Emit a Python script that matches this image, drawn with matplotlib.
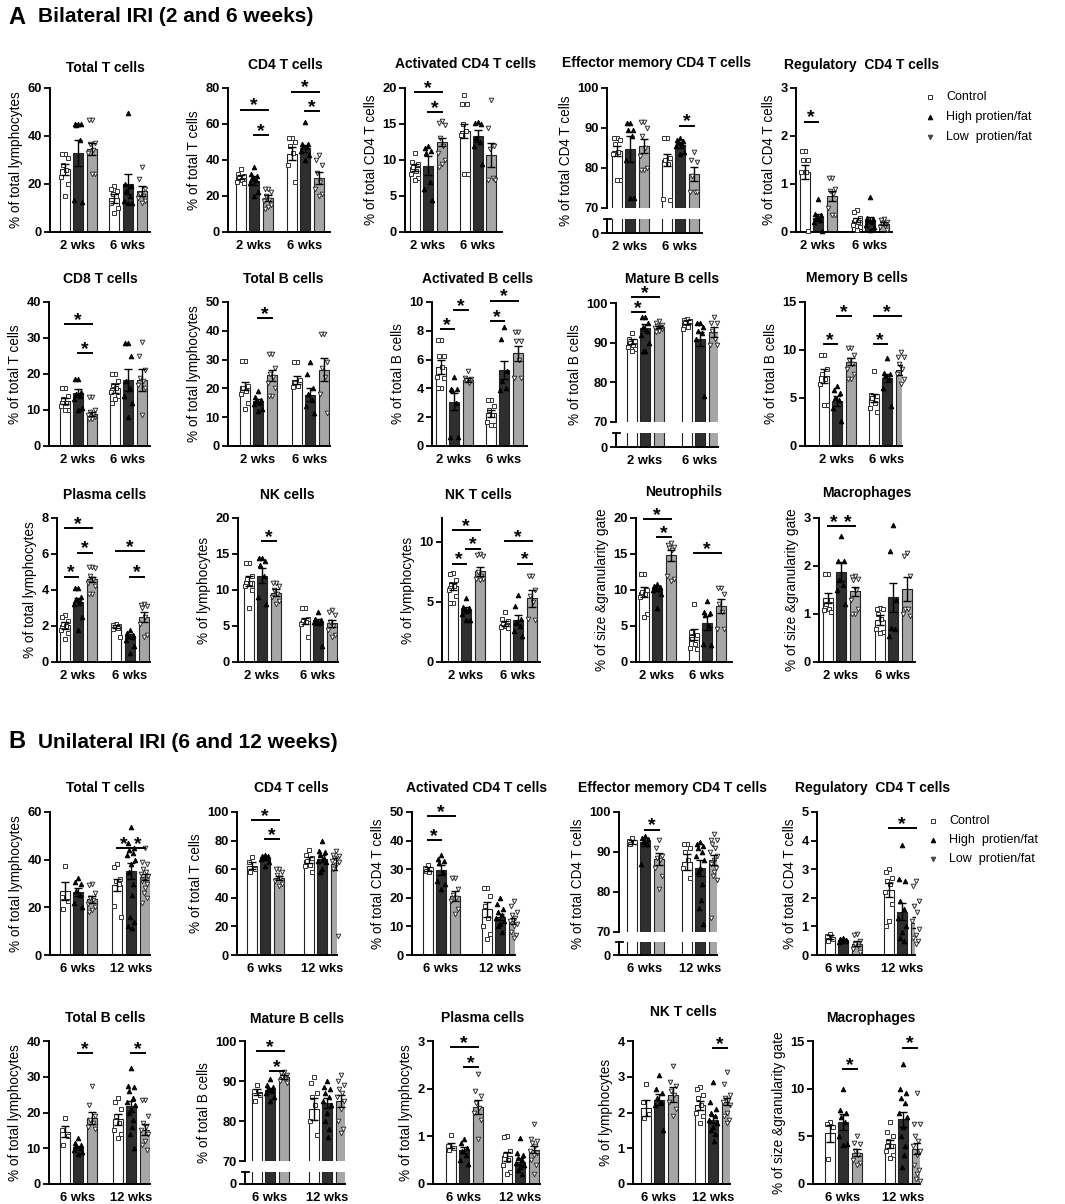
import matplotlib
matplotlib.use('Agg')
import matplotlib.pyplot as plt

plt.rcParams['font.family'] = ['Liberation Sans', 'DejaVu Sans']
plt.rcParams['font.weight'] = 'bold'

# ---------------- data ----------------
SERIES_A = ['Control', 'High protien/fat', 'Low  protien/fat']
SERIES_B = ['Control', 'High  protien/fat', 'Low  protien/fat']
WEEKS_A = ['2 wks', '6 wks']
WEEKS_B = ['6 wks', '12 wks']

# order of bars: [Ctrl wk1, High wk1, Low wk1, Ctrl wk2, High wk2, Low wk2]
A_TOTT_MEAN = [26.2, 32.8, 34.5, 14.0, 20.0, 17.0]
A_TOTT_SEM = [2.3, 5.5, 2.6, 1.9, 4.3, 2.0]
A_TOTT_PTS = [[32.5, 32.5, 31, 28, 26, 23, 20, 15], [45, 45, 45, 44.5, 38.5, 13.3, 12.5],
              [46.5, 46.5, 37, 36.5, 34, 33, 24, 24], [19, 18, 17, 16, 15, 12, 10, 8],
              [49.5, 20, 19, 17, 15, 13, 12, 12], [27, 22, 18, 16, 15, 14, 13, 12]]
A_TOTT_SIG = []

A_CD4_MEAN = [30.5, 28.5, 19.0, 43.5, 46.5, 30.0]
A_CD4_SEM = [1.3, 2.5, 1.5, 3.5, 2.0, 3.5]
A_CD4_PTS = [[35, 32, 31, 30, 29, 28, 27], [36, 32, 31, 30, 29, 27, 22, 20],
             [24, 24, 22, 20, 18, 17, 15, 14, 13], [52, 52, 50, 48, 44, 37, 28],
             [61, 49, 49, 48, 47, 45, 43, 40], [43, 40, 37, 33, 28, 24, 21, 20]]
A_CD4_SIG = [(0, 2, 68), (1, 2, 54), (3, 5, 78), (4, 5, 67)]

A_ACD4_MEAN = [9.0, 9.2, 12.5, 14.0, 13.3, 10.7]
A_ACD4_SEM = [0.5, 1.3, 0.6, 1.0, 0.8, 1.7]
A_ACD4_PTS = [[11, 9.7, 9.5, 9, 8.5, 8, 7.5, 7.2], [12, 11.7, 11.3, 11, 7, 6, 4.5],
              [15.4, 15.2, 14.8, 13, 12, 11, 10, 9.5, 9], [19, 17.8, 17.8, 15, 14, 13.5, 8, 8],
              [15.3, 15.2, 15, 13, 12.5, 12, 9.5], [18.3, 14.5, 12, 11.5, 7.5, 7.2, 7.2]]
A_ACD4_SIG = [(0, 2, 19.4), (1, 2, 16.7)]

A_EM_MEAN = [84.2, 84.7, 85.5, 82.0, 85.8, 78.5]
A_EM_SEM = [1.3, 3.3, 1.8, 1.5, 0.7, 1.8]
A_EM_PTS = [[87.5, 87.5, 87, 86, 84, 83.5, 77, 77], [91.3, 91.3, 89.5, 89.5, 88, 82, 72.5, 72.5],
            [91.5, 91.5, 90, 88, 85, 83, 80, 79.5, 79.5], [87.5, 87.5, 82.5, 82, 81, 72.3, 72],
            [87.5, 87, 86.8, 86.5, 86, 85.5, 84, 83.5], [84, 82, 81.5, 78, 74, 74, 74]]
A_EM_SIG = [(4, 5, 90.6)]

A_TREG_MEAN = [1.25, 0.30, 0.75, 0.25, 0.25, 0.17]
A_TREG_SEM = [0.15, 0.07, 0.10, 0.05, 0.06, 0.03]
A_TREG_PTS = [[1.68, 1.68, 1.5, 1.5, 1.25, 1.25, 0.02], [0.68, 0.38, 0.35, 0.3, 0.25, 0.2, 0.02],
              [1.12, 1.12, 0.9, 0.85, 0.8, 0.5, 0.35, 0.35], [0.46, 0.42, 0.3, 0.25, 0.2, 0.15, 0.1, 0.05],
              [0.73, 0.3, 0.28, 0.25, 0.2, 0.15, 0.1, 0.05], [0.27, 0.25, 0.2, 0.18, 0.12, 0.1, 0.05]]
A_TREG_SIG = [(0, 1, 2.3)]

A_CD8_MEAN = [12.5, 14.7, 8.8, 16.0, 18.3, 18.3]
A_CD8_SEM = [0.8, 1.0, 0.6, 1.3, 3.0, 3.0]
A_CD8_PTS = [[16, 16, 14, 13, 12, 11, 10, 10], [18.5, 18.5, 15, 14.5, 14, 13, 10.5, 10],
             [13.5, 13.5, 10, 9.5, 9, 8.5, 8, 7.5, 7.5], [20, 20, 18, 17, 16, 15, 14, 13, 12],
             [28.5, 28.5, 25, 18, 16, 14, 12, 8], [29, 25, 21, 19, 18, 17, 16, 8.5]]
A_CD8_SIG = [(0, 2, 33.8), (1, 2, 25.9)]

A_TOTB_MEAN = [20.8, 15.6, 24.5, 23.0, 17.8, 26.4]
A_TOTB_SEM = [1.5, 0.8, 1.8, 1.3, 2.2, 4.0]
A_TOTB_PTS = [[29.5, 29.5, 21, 20, 19, 18, 15, 13], [19, 17, 16, 15.5, 15, 14.5, 13, 12],
              [32, 32, 27, 25, 24, 22, 20, 17.5, 17.5], [29, 29, 23, 22, 21, 20.5],
              [29, 25, 20, 18, 16, 14, 11.5], [39, 39, 29, 27, 24, 18, 11.5]]
A_TOTB_SIG = [(1, 2, 44.5)]

A_ACTB_MEAN = [5.47, 3.07, 4.6, 2.26, 5.28, 6.44]
A_ACTB_SEM = [0.5, 0.6, 0.15, 0.25, 0.62, 0.53]
A_ACTB_PTS = [[7.35, 7.35, 6.25, 6.25, 5.5, 4.8, 4.7, 4.0, 4.0], [4.77, 3.95, 3.95, 3.9, 3.0, 0.65, 0.65],
              [5.2, 4.75, 4.65, 4.55, 4.4], [3.2, 3.2, 2.8, 2.5, 2.15, 1.7, 1.45, 1.45],
              [8.25, 7.45, 5.2, 4.5, 4.0, 3.9], [7.9, 7.9, 7.3, 7.3, 6.0, 4.7, 4.7]]
A_ACTB_SIG = [(0, 1, 8.1), (1, 2, 9.45), (3, 4, 8.7), (3, 5, 10.1)]

A_MATB_MEAN = [90.3, 93.8, 94.0, 95.2, 91.0, 92.7]
A_MATB_SEM = [0.6, 0.8, 0.3, 0.5, 1.8, 1.2]
A_MATB_PTS = [[92.5, 91, 90.5, 90, 89.5, 89, 88.5, 88], [96.5, 96.5, 95, 94, 93, 92, 90, 88, 88],
              [95.5, 95, 94.5, 94.3, 94, 93.8, 93.5, 93, 92.8], [96, 95.8, 95.5, 95, 94, 93.5],
              [95, 95, 94, 93, 92.5, 91, 76.5], [96.5, 95, 95, 93, 91, 89.5, 89.5]]
A_MATB_SIG = [(0, 1, 97.7), (0, 2, 101.5)]

A_MEMB_MEAN = [7.3, 4.7, 8.8, 5.0, 7.1, 7.9]
A_MEMB_SEM = [0.7, 0.5, 0.4, 0.4, 0.45, 0.5]
A_MEMB_PTS = [[9.5, 9.5, 8, 7.5, 7, 6.5, 4.3, 4.3], [6.3, 5.8, 5.5, 5, 4.8, 4, 2.6],
              [10.2, 10.2, 9.5, 9, 8.5, 8, 7.5, 7, 7], [7.8, 5.3, 5.2, 5, 4.5, 4, 3.5],
              [9.2, 7.6, 7.5, 7.3, 7, 6, 4.2], [9.8, 9.3, 9.3, 8.5, 8, 7.5, 7, 6.5]]
A_MEMB_SIG = [(0, 1, 10.6), (1, 2, 13.5), (3, 4, 10.6), (3, 5, 13.5)]

A_PLAS_MEAN = [2.05, 3.35, 4.6, 1.95, 1.45, 2.5]
A_PLAS_SEM = [0.2, 0.2, 0.15, 0.08, 0.12, 0.3]
A_PLAS_PTS = [[2.6, 2.5, 2.3, 2.1, 2, 1.8, 1.6, 1.3], [4.1, 4.1, 3.6, 3.5, 3.4, 3.2, 2.5, 1.8],
              [5.3, 5.3, 5.2, 4.8, 4.6, 4.4, 4.2, 3.8, 3.8], [2.1, 2.05, 2, 1.95, 1.9, 1.85, 1.4],
              [1.8, 1.6, 1.5, 1.45, 1.4, 1.2, 0.9, 0.5], [3.2, 3.15, 3.1, 3, 2.5, 2.1, 1.5, 1.4]]
A_PLAS_SIG = [(0, 1, 4.74), (1, 2, 6.08), (0, 2, 7.44), (4, 5, 4.74), (3, 5, 6.14)]

A_NK_MEAN = [11.3, 12.0, 9.6, 5.7, 5.6, 5.4]
A_NK_SEM = [0.7, 1.0, 0.5, 0.4, 0.4, 0.5]
A_NK_PTS = [[13.7, 13.7, 12, 11.5, 11, 10.5, 10, 7.5], [14.5, 14.5, 14, 13.5, 12, 9, 8],
            [11, 11, 10.5, 10, 9.5, 9, 8.5, 8], [7.5, 7.5, 6, 5.7, 5.5, 5.3, 3.5],
            [7, 6, 5.8, 5.6, 5.5, 5.5, 2.2], [7.2, 7, 6.5, 5.5, 5, 4.5, 3.8, 3.5]]
A_NK_SIG = [(1, 2, 16.8)]

A_NKT_MEAN = [6.3, 4.35, 7.55, 3.2, 3.5, 5.3]
A_NKT_SEM = [0.3, 0.25, 0.4, 0.2, 0.4, 0.7]
A_NKT_PTS = [[7.4, 7.3, 6.8, 6.5, 6.3, 6.0, 5.5, 4.9, 4.9], [5.3, 4.6, 4.5, 4.4, 4.3, 4.0, 3.5, 3.5],
             [9.0, 8.9, 8.8, 7.5, 7.2, 6.9, 6.9, 6.8], [4.2, 3.6, 3.4, 3.2, 3.0, 2.9, 2.8],
             [5.6, 4.7, 3.6, 3.3, 3.0, 2.6, 2.2], [7.2, 7.2, 6.0, 5.5, 5.0, 3.6, 3.5]]
A_NKT_SIG = [(0, 1, 8.2), (1, 2, 9.45), (0, 2, 11.0), (4, 5, 8.2), (3, 5, 10.1)]

A_NEU_MEAN = [9.7, 10.2, 14.8, 3.8, 5.4, 7.8]
A_NEU_SEM = [0.7, 0.3, 0.8, 0.8, 1.0, 1.0]
A_NEU_PTS = [[12.2, 12.2, 10, 9.7, 9.5, 9, 6.6, 6.2], [10.8, 10.5, 10.4, 10.3, 10.2, 10, 9.5, 7.5],
             [16.5, 16.3, 16, 15.8, 15.5, 12, 11.5, 11.3], [8.1, 4.2, 3.8, 3.2, 2.5, 2, 1.8],
             [8.5, 7, 6.8, 6.5, 5, 2.5, 2.3], [10.3, 10.3, 9.5, 8, 7, 4.6, 4.6]]
A_NEU_SIG = [(0, 2, 19.9), (1, 2, 17.35), (3, 5, 15.1)]

A_MAC_MEAN = [1.33, 1.88, 1.47, 0.87, 1.35, 1.53]
A_MAC_SEM = [0.1, 0.2, 0.1, 0.1, 0.3, 0.25]
A_MAC_PTS = [[1.83, 1.83, 1.3, 1.2, 1.1, 1.08, 1.05], [2.63, 2.1, 2.1, 1.7, 1.6, 1.5, 1.2],
             [1.8, 1.78, 1.72, 1.7, 1.5, 1.3, 1.1, 1.0, 1.0], [1.12, 1.1, 1.1, 1.0, 0.9, 0.68, 0.62, 0.6],
             [2.85, 2.32, 1.3, 0.7, 0.68, 0.55], [2.28, 2.2, 1.8, 1.1, 1.1, 1.0, 0.95]]
A_MAC_SIG = [(0, 1, 2.83), (1, 2, 2.83)]

B_TOTT_MEAN = [26.7, 26.5, 23.3, 29.5, 35.3, 32.7]
B_TOTT_SEM = [3.8, 1.8, 1.5, 2.5, 3.4, 1.3]
B_TOTT_PTS = [[37.5, 24.5, 22.5, 19.5], [32.5, 30.5, 30, 27, 25, 22, 20],
              [30, 29.5, 26, 24, 23, 21.5, 20, 19, 18], [38, 37, 32, 31, 30, 20.5, 16],
              [53.5, 47, 45, 44, 43, 42, 40, 38, 35, 30, 25, 16, 14, 12, 11.5],
              [45, 39, 38, 36, 35, 34, 33, 32, 31, 30, 28, 26, 24, 22]]
B_TOTT_SIG = [(3, 4, 44.9), (4, 5, 44.9)]

B_CD4_MEAN = [62.5, 67.5, 54.0, 66.3, 67.3, 63.5]
B_CD4_SEM = [2.5, 1.0, 1.5, 2.0, 2.5, 4.0]
B_CD4_PTS = [[68.5, 65, 60, 58], [70, 69.5, 69, 68.5, 68, 67, 65, 62],
             [60, 60, 58, 56, 54, 52, 50, 48], [73.5, 70, 68, 66, 63, 62, 58],
             [80, 73, 72, 70, 68, 66, 65, 60, 58], [73, 70, 69, 68, 67, 66, 65, 63, 60, 13]]
B_CD4_SIG = [(0, 2, 94.2), (1, 2, 80.9)]

B_ACD4_MEAN = [30.0, 29.8, 20.7, 16.0, 13.3, 12.0]
B_ACD4_SEM = [0.8, 1.7, 1.7, 2.6, 1.2, 1.0]
B_ACD4_PTS = [[31.5, 30.5, 30, 29.5, 29], [35, 33.5, 33, 32, 29, 26, 25, 23],
              [27, 27, 23, 21, 20, 19, 16, 14.5], [23.5, 23.5, 20.5, 17, 13, 10, 7.5, 5.5],
              [20, 18, 16, 15, 14, 13, 12, 11, 10, 8], [19, 17, 15, 14, 13, 12, 11, 10, 8, 7, 6]]
B_ACD4_SIG = [(0, 1, 40.1), (0, 2, 48.6)]

B_EM_MEAN = [92.5, 92.5, 88.2, 87.5, 86.0, 88.0]
B_EM_SEM = [0.4, 1.0, 1.5, 1.9, 2.0, 1.2]
B_EM_PTS = [[93.5, 92.8, 92.5, 92], [94, 93.5, 93.3, 92.5, 92, 87],
            [93, 91, 89, 88.5, 88, 86, 84, 80.8], [92, 92, 91, 90, 88, 86, 83.5],
            [92.5, 92, 91.5, 91, 90, 89, 88, 86, 85, 82, 78, 76, 72],
            [94.5, 93, 93, 92, 91, 90, 89, 88, 87, 86, 85, 84, 83, 73.5]]
B_EM_SIG = [(1, 2, 95.6)]

B_TREG_MEAN = [0.62, 0.52, 0.40, 2.27, 1.52, 1.13]
B_TREG_SEM = [0.07, 0.03, 0.08, 0.25, 0.3, 0.2]
B_TREG_PTS = [[0.75, 0.65, 0.55, 0.5], [0.6, 0.55, 0.52, 0.5, 0.48, 0.45],
              [0.75, 0.7, 0.5, 0.4, 0.3, 0.2, 0.1], [3, 2.9, 2.7, 2.6, 2.5, 2.2, 1.8, 1.2, 1.0],
              [3.85, 2.65, 2.6, 1.9, 1.6, 1.3, 1.0, 0.8, 0.6, 0.5],
              [2.6, 2.4, 1.9, 1.7, 1.5, 1.2, 0.9, 0.7, 0.6, 0.5, 0.4]]
B_TREG_SIG = [(3, 5, 4.45)]

B_TOTB_MEAN = [14.6, 10.3, 18.4, 18.1, 21.7, 15.2]
B_TOTB_SEM = [1.5, 0.4, 1.7, 1.6, 1.6, 1.5]
B_TOTB_PTS = [[18.5, 15, 13.5, 11], [13, 11.5, 11, 10.5, 10, 9.5, 9, 8.5],
              [27.5, 22, 19, 18, 17, 16, 15.5], [24, 23, 21, 19, 17, 15, 14, 13],
              [32.5, 27.5, 27, 26, 24, 23, 22, 21, 20, 18, 16, 14, 10],
              [23.5, 23.5, 19, 17, 16, 15, 14, 12, 11, 9.5]]
B_TOTB_SIG = [(1, 2, 36.6), (4, 5, 36.6)]

B_MATB_MEAN = [87.3, 87.8, 91.0, 83.0, 84.5, 85.0]
B_MATB_SEM = [0.8, 0.5, 0.4, 2.8, 1.2, 1.6]
B_MATB_PTS = [[89, 87.5, 86.5, 85], [90.5, 89, 88.5, 88, 87.5, 87, 86, 85],
              [92.3, 92, 91.5, 91, 90.5, 90, 89.5], [91, 89.5, 87, 86, 84, 80, 76.5],
              [90, 88.5, 88, 87, 86, 85, 84, 82, 80, 78, 76],
              [91.5, 90, 89, 88, 87, 86, 85, 83, 80, 78, 77]]
B_MATB_SIG = [(0, 2, 97.5), (1, 2, 92.5)]

B_PLAS_MEAN = [0.80, 0.71, 1.62, 0.58, 0.47, 0.72]
B_PLAS_SEM = [0.05, 0.07, 0.15, 0.1, 0.07, 0.07]
B_PLAS_PTS = [[1.02, 0.8, 0.75, 0.72], [0.95, 0.85, 0.75, 0.7, 0.6, 0.5, 0.42],
              [2.3, 1.95, 1.85, 1.7, 1.6, 1.5, 1.35, 0.95], [1.0, 0.98, 0.7, 0.6, 0.5, 0.4, 0.25, 0.2],
              [0.97, 0.65, 0.6, 0.55, 0.5, 0.45, 0.4, 0.35, 0.3, 0.2],
              [1.25, 0.95, 0.9, 0.85, 0.8, 0.7, 0.65, 0.6, 0.5, 0.4, 0.2]]
B_PLAS_SIG = [(0, 2, 2.87), (1, 2, 2.46)]

B_NKT_MEAN = [2.13, 2.36, 2.5, 2.2, 1.8, 2.3]
B_NKT_SEM = [0.22, 0.15, 0.2, 0.12, 0.1, 0.1]
B_NKT_PTS = [[2.8, 2.3, 1.95, 1.85], [3.05, 2.65, 2.55, 2.4, 2.3, 2.2, 1.5],
             [3.3, 2.85, 2.75, 2.6, 2.5, 2.3, 2.1, 1.9], [2.7, 2.65, 2.5, 2.4, 2.2, 2.0, 1.9, 1.7],
             [2.85, 2.3, 2.1, 2.0, 1.9, 1.8, 1.7, 1.6, 1.5, 1.4, 1.2],
             [3.12, 2.8, 2.5, 2.4, 2.35, 2.3, 2.2, 2.0, 1.9, 1.8, 1.7]]
B_NKT_SIG = [(4, 5, 3.8)]

B_MAC_MEAN = [5.3, 6.5, 3.3, 4.2, 6.8, 3.7]
B_MAC_SEM = [0.85, 0.8, 0.4, 0.4, 0.8, 0.6]
B_MAC_PTS = [[6.5, 6.3, 6.0, 2.6], [10, 7.8, 7.5, 7, 6.5, 5, 4.2, 4.1],
             [5, 4.3, 4.2, 3.5, 3, 2.5, 2.2, 2.0], [6.5, 5.5, 5, 4.5, 4, 3.5, 3, 2.7],
             [12.6, 10, 9.5, 9, 8.5, 7.5, 7, 6, 5, 4, 3, 1.8],
             [9.5, 6.3, 6.3, 5, 4.5, 4, 3.5, 3, 2, 1.5, 1, 0.5, 0.3]]
B_MAC_SIG = [(1, 2, 12.05), (4, 5, 14.3)]

# ---------------- layout ----------------
W, H = 1065, 1204
fig = plt.figure(figsize=(W / 100, H / 100), dpi=100)

ov = fig.add_axes([0, 0, 1, 1])
ov.set_xlim(0, W)
ov.set_ylim(H, 0)
ov.axis('off')


def add_ax(l, t, r, b):
    return fig.add_axes([l / W, 1 - b / H, (r - l) / W, (b - t) / H])


BAR_COLORS = ['white', '#2f2f2f', '#a6a6a6']
MARKERS = [dict(marker='s', mfc='white', mec='#333333'),
           dict(marker='^', mfc='black', mec='black'),
           dict(marker='v', mfc='white', mec='#333333')]
OFFS = [0, -3, 3, -1.6, 1.6, -3.6, 3.6, 0, -2.2, 2.2, 0.8, -0.8, 3, -3, 0.5]
DX = 13.5
BW = 10

LBL_LYM = '% of total lymphocytes'
LBL_T = '% of total T cells'
LBL_CD4 = '% of total CD4 T cells'
LBL_B = '% of total B cells'
LBL_L = '% of lymphocytes'
LBL_SG = '% of size &granularity gate'

PANELS = [
    # row A1
    dict(title='Total T cells', txy=(105, 68), d=(A_TOTT_MEAN, A_TOTT_SEM, A_TOTT_PTS, A_TOTT_SIG),
         yl=LBL_LYM, ylim=(0, 60), yt=[0, 20, 40, 60], wk=WEEKS_A, box=(50, 88, 150, 232), c=(78, 128)),
    dict(title='CD4 T cells', txy=(285, 65), d=(A_CD4_MEAN, A_CD4_SEM, A_CD4_PTS, A_CD4_SIG),
         yl=LBL_T, ylim=(0, 80), yt=[0, 20, 40, 60, 80], wk=WEEKS_A, box=(228, 88, 330, 232), c=(254, 305)),
    dict(title='Activated CD4 T cells', txy=(466, 64), d=(A_ACD4_MEAN, A_ACD4_SEM, A_ACD4_PTS, A_ACD4_SIG),
         yl=LBL_CD4, ylim=(0, 20), yt=[0, 5, 10, 15, 20], wk=WEEKS_A, box=(405, 88, 502, 232), c=(428, 478)),
    dict(title='Effector memory CD4 T cells', txy=(656, 63), d=(A_EM_MEAN, A_EM_SEM, A_EM_PTS, A_EM_SIG),
         yl=LBL_CD4, ylim=(70, 100), yt=[70, 80, 90, 100], wk=WEEKS_A, box=(607, 88, 702, 233), c=(630, 680),
         brk=(208, 219)),
    dict(title='Regulatory  CD4 T cells', txy=(862, 65), d=(A_TREG_MEAN, A_TREG_SEM, A_TREG_PTS, A_TREG_SIG),
         yl=LBL_CD4, ylim=(0, 3), yt=[0, 1, 2, 3], wk=WEEKS_A, box=(796, 88, 892, 232), c=(818, 870)),
    # row A2
    dict(title='CD8 T cells', txy=(100, 279), d=(A_CD8_MEAN, A_CD8_SEM, A_CD8_PTS, A_CD8_SIG),
         yl=LBL_T, ylim=(0, 40), yt=[0, 10, 20, 30, 40], wk=WEEKS_A, box=(49, 302, 150, 446), c=(78, 128)),
    dict(title='Total B cells', txy=(283, 279), d=(A_TOTB_MEAN, A_TOTB_SEM, A_TOTB_PTS, A_TOTB_SIG),
         yl=LBL_LYM, ylim=(0, 50), yt=[0, 10, 20, 30, 40, 50], wk=WEEKS_A, box=(228, 302, 330, 446), c=(258, 310)),
    dict(title='Activated B cells', txy=(478, 279), d=(A_ACTB_MEAN, A_ACTB_SEM, A_ACTB_PTS, A_ACTB_SIG),
         yl=LBL_B, ylim=(0, 10), yt=[0, 2, 4, 6, 8, 10], wk=WEEKS_A, box=(432, 302, 527, 446), c=(454, 504)),
    dict(title='Mature B cells', txy=(672, 279), d=(A_MATB_MEAN, A_MATB_SEM, A_MATB_PTS, A_MATB_SIG),
         yl=LBL_B, ylim=(70, 100), yt=[70, 80, 90, 100], wk=WEEKS_A, box=(616, 303, 718, 447), c=(645, 700),
         brk=(422, 433)),
    dict(title='Memory B cells', txy=(857, 278), d=(A_MEMB_MEAN, A_MEMB_SEM, A_MEMB_PTS, A_MEMB_SIG),
         yl=LBL_B, ylim=(0, 15), yt=[0, 5, 10, 15], wk=WEEKS_A, box=(805, 302, 902, 446), c=(837, 887)),
    # row A3
    dict(title='Plasma cells', txy=(105, 495), d=(A_PLAS_MEAN, A_PLAS_SEM, A_PLAS_PTS, A_PLAS_SIG),
         yl=LBL_LYM, ylim=(0, 8), yt=[0, 2, 4, 6, 8], wk=WEEKS_A, box=(57, 518, 150, 662), c=(78, 130)),
    dict(title='NK cells', txy=(287, 495), d=(A_NK_MEAN, A_NK_SEM, A_NK_PTS, A_NK_SIG),
         yl=LBL_L, ylim=(0, 20), yt=[0, 5, 10, 15, 20], wk=WEEKS_A, box=(238, 518, 338, 662), c=(262, 318)),
    dict(title='NK T cells', txy=(478, 495), d=(A_NKT_MEAN, A_NKT_SEM, A_NKT_PTS, A_NKT_SIG),
         yl=LBL_L, ylim=(0, 12), yt=[0, 5, 10], wk=WEEKS_A, box=(442, 518, 540, 662), c=(466, 518)),
    dict(title='Neutrophils', txy=(684, 492), d=(A_NEU_MEAN, A_NEU_SEM, A_NEU_PTS, A_NEU_SIG),
         yl=LBL_SG, ylim=(0, 20), yt=[0, 5, 10, 15, 20], wk=WEEKS_A, box=(636, 518, 732, 662), c=(657, 707)),
    dict(title='Macrophages', txy=(867, 493), d=(A_MAC_MEAN, A_MAC_SEM, A_MAC_PTS, A_MAC_SIG),
         yl=LBL_SG, ylim=(0, 3), yt=[0, 1, 2, 3], wk=WEEKS_A, box=(819, 518, 915, 662), c=(841, 893)),
    # row B1
    dict(title='Total T cells', txy=(105, 788), d=(B_TOTT_MEAN, B_TOTT_SEM, B_TOTT_PTS, B_TOTT_SIG),
         yl=LBL_LYM, ylim=(0, 60), yt=[0, 20, 40, 60], wk=WEEKS_B, box=(50, 812, 150, 955), c=(78, 131)),
    dict(title='CD4 T cells', txy=(291, 788), d=(B_CD4_MEAN, B_CD4_SEM, B_CD4_PTS, B_CD4_SIG),
         yl=LBL_T, ylim=(0, 100), yt=[0, 20, 40, 60, 80, 100], wk=WEEKS_B, box=(237, 812, 337, 955), c=(265, 322)),
    dict(title='Activated CD4 T cells', txy=(477, 788), d=(B_ACD4_MEAN, B_ACD4_SEM, B_ACD4_PTS, B_ACD4_SIG),
         yl=LBL_CD4, ylim=(0, 50), yt=[0, 10, 20, 30, 40, 50], wk=WEEKS_B, box=(412, 812, 515, 955), c=(441, 500)),
    dict(title='Effector memory CD4 T cells', txy=(673, 788), d=(B_EM_MEAN, B_EM_SEM, B_EM_PTS, B_EM_SIG),
         yl=LBL_CD4, ylim=(70, 100), yt=[70, 80, 90, 100], wk=WEEKS_B, box=(619, 812, 717, 955), c=(645, 700),
         brk=(932, 942)),
    dict(title='Regulatory  CD4 T cells', txy=(873, 788), d=(B_TREG_MEAN, B_TREG_SEM, B_TREG_PTS, B_TREG_SIG),
         yl=LBL_CD4, ylim=(0, 5), yt=[0, 1, 2, 3, 4, 5], wk=WEEKS_B, box=(817, 812, 915, 955), c=(843, 902)),
    # row B2
    dict(title='Total B cells', txy=(105, 1018), d=(B_TOTB_MEAN, B_TOTB_SEM, B_TOTB_PTS, B_TOTB_SIG),
         yl=LBL_LYM, ylim=(0, 40), yt=[0, 10, 20, 30, 40], wk=WEEKS_B, box=(49, 1041, 150, 1184), c=(78, 131)),
    dict(title='Mature B cells', txy=(297, 1019), d=(B_MATB_MEAN, B_MATB_SEM, B_MATB_PTS, B_MATB_SIG),
         yl=LBL_B, ylim=(70, 100), yt=[70, 80, 90, 100], wk=WEEKS_B, box=(245, 1041, 345, 1184), c=(270, 327),
         brk=(1161, 1172)),
    dict(title='Plasma cells', txy=(483, 1018), d=(B_PLAS_MEAN, B_PLAS_SEM, B_PLAS_PTS, B_PLAS_SIG),
         yl=LBL_LYM, ylim=(0, 3), yt=[0, 1, 2, 3], wk=WEEKS_B, box=(433, 1041, 540, 1184), c=(464, 520)),
    dict(title='NK T cells', txy=(683, 1012), d=(B_NKT_MEAN, B_NKT_SEM, B_NKT_PTS, B_NKT_SIG),
         yl=LBL_L, ylim=(0, 4), yt=[0, 1, 2, 3, 4], wk=WEEKS_B, box=(633, 1041, 730, 1184), c=(659, 713)),
    dict(title='Macrophages', txy=(871, 1018), d=(B_MAC_MEAN, B_MAC_SEM, B_MAC_PTS, B_MAC_SIG),
         yl=LBL_SG, ylim=(0, 15), yt=[0, 5, 10, 15], wk=WEEKS_B, box=(813, 1041, 920, 1184), c=(843, 903)),
]

FS_TICK = 9.3
FS_YLAB = 9.8
FS_TITLE = 10
LW_AX = 1.4


def style(a):
    for s in ['top', 'right']:
        a.spines[s].set_visible(False)
    for s in ['left', 'bottom']:
        a.spines[s].set_linewidth(LW_AX)
    a.tick_params(direction='out', length=4, width=1.3, labelsize=FS_TICK, pad=2)


def draw_panel(p):
    mean, sem, pts, sig = p['d']
    l, t, r, b = p['box']
    c1, c2 = p['c']
    pos = [c1 - DX - l, c1 - l, c1 + DX - l, c2 - DX - l, c2 - l, c2 + DX - l]
    cols = BAR_COLORS * 2
    brk = p.get('brk')
    if brk:
        ub, lt = brk
        ax = add_ax(l, t, r, ub)
        axl = add_ax(l, lt, r, b)
        axes = [ax, axl]
    else:
        ax = add_ax(l, t, r, b)
        axl = ax
        axes = [ax]
    for a in axes:
        a.bar(pos, mean, width=BW, color=cols, edgecolor='#222222', linewidth=0.8, zorder=2)
        a.set_xlim(0, r - l)
        style(a)
    ax.set_ylim(*p['ylim'])
    ax.set_yticks(p['yt'])
    # points
    for k in range(6):
        vals = pts[k]
        xs = [pos[k] + OFFS[i % len(OFFS)] for i in range(len(vals))]
        ax.plot(xs, vals, ls='none', ms=3.3, mew=0.7, zorder=3, clip_on=False, **MARKERS[k % 3])
    ax.errorbar(pos, mean, yerr=sem, fmt='none', ecolor='black', elinewidth=1.0,
                capsize=2.6, capthick=1.0, zorder=4)
    # significance
    for i, j, h in sig:
        ax.plot([pos[i], pos[j]], [h, h], color='black', lw=1.4, clip_on=False, zorder=5)
        ax.annotate('*', xy=((pos[i] + pos[j]) / 2, h), xytext=(0, -3.5), textcoords='offset points',
                    ha='center', va='bottom', fontsize=14, fontweight='bold', annotation_clip=False)
    # x axis
    axl.set_xticks([c1 - l, c2 - l])
    axl.set_xticklabels(p['wk'], fontsize=FS_TICK)
    axl.tick_params(axis='x', length=0, pad=6)
    ax.set_ylabel(p['yl'], fontsize=FS_YLAB, labelpad=3)
    if brk:
        ax.spines['bottom'].set_visible(False)
        ax.tick_params(axis='x', bottom=False, labelbottom=False)
        axl.set_ylim(0, 3)
        axl.set_yticks([0])
        axl.plot([-3.5, 3.5], [3, 3], color='black', lw=1.3, clip_on=False)
        # centre the y label on the full broken span
        yc = (ub - (t + b) / 2) / (ub - t)
        ax.yaxis.label.set_y(yc)
    ov.text(p['txy'][0], p['txy'][1], p['title'], ha='center', va='center', fontsize=FS_TITLE,
            fontweight='bold')


for p in PANELS:
    draw_panel(p)

# section headers
ov.text(8, 17, 'A', fontsize=17, fontweight='bold', va='center', ha='left')
ov.text(38, 17, 'Bilateral IRI (2 and 6 weeks)', fontsize=15, fontweight='bold', va='center', ha='left')
ov.text(8, 742, 'B', fontsize=17, fontweight='bold', va='center', ha='left')
ov.text(38, 742, 'Unilateral IRI (6 and 12 weeks)', fontsize=15, fontweight='bold', va='center', ha='left')

# legends
LEG_MK = [dict(marker='s', mfc='white', mec='#333333'),
          dict(marker='^', mfc='black', mec='black'),
          dict(marker='v', mfc='#444444', mec='#444444')]


def legend(xm, xt, ys, labels):
    for k in range(3):
        ov.plot([xm], [ys[k]], ls='none', ms=3.3, mew=0.7, **LEG_MK[k])
        ov.text(xt, ys[k], labels[k], fontsize=9, fontweight='normal', va='center', ha='left')


legend(930, 946, [97, 117, 137], SERIES_A)
legend(933, 949, [821, 840, 859], SERIES_B)

fig.savefig('out.png', dpi=100)
